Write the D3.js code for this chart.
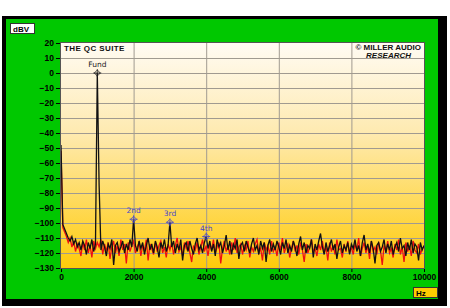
<!DOCTYPE html>
<html>
<head>
<meta charset="utf-8">
<script src="https://cdn.jsdelivr.net/npm/d3@7"></script>
<style>
  body { margin: 0; background: #fff; }
  svg { display: block; font-family: "Liberation Sans", Arial, sans-serif; }
</style>
</head>
<body>
<svg id="chart"></svg>
<script>
const width = 450;
const height = 308;

// spectrum bins, 50 Hz apart
const binHz = 50;

const blackLevels = [
  -48,-101,-104,-107,-110,-112,-109,-114,-111,-116,-113,-118,-112,-115,-121,-113,-117,-111,-119,-114,
  0,-75,-118,-112,-116,-122,-114,-117,-111,-128,-115,-113,-119,-116,-112,-120,-114,-118,-111,-116,
  -97.5,-115,-119,-112,-117,-113,-121,-115,-110,-118,-114,-120,-112,-116,-123,-113,-117,-111,-119,-115,
  -99.5,-116,-112,-120,-114,-118,-111,-125,-115,-113,-119,-112,-117,-121,-114,-110,-118,-115,-120,-113,
  -109,-117,-112,-119,-114,-122,-111,-116,-113,-120,-115,-108,-118,-112,-121,-114,-117,-111,-124,-115,
  -113,-119,-112,-116,-120,-114,-110,-118,-115,-121,-112,-117,-113,-126,-115,-111,-119,-114,-118,-112,
  -116,-121,-113,-117,-111,-120,-115,-119,-112,-116,-122,-114,-109,-118,-113,-120,-115,-117,-111,-123,
  -114,-118,-112,-107,-116,-121,-113,-119,-115,-111,-118,-114,-124,-116,-112,-120,-115,-118,-113,-121,
  -114,-117,-111,-119,-115,-122,-113,-108,-118,-114,-120,-112,-117,-127,-115,-113,-119,-116,-111,-120,
  -114,-118,-112,-121,-116,-113,-119,-110,-117,-115,-122,-113,-118,-111,-120,-114,-116,-125,-113,-118,
  -115
];

const redLevels = [
  -52,-103,-106,-109,-113,-110,-116,-112,-119,-114,-117,-122,-113,-118,-111,-120,-115,-123,-112,-117,
  -113,-116,-111,-121,-114,-119,-113,-124,-116,-112,-120,-115,-122,-111,-118,-114,-127,-113,-119,-115,
  -112,-120,-116,-113,-122,-115,-118,-111,-125,-114,-117,-121,-113,-119,-115,-112,-120,-116,-123,-114,
  -118,-113,-121,-115,-110,-119,-116,-122,-113,-117,-112,-120,-126,-115,-118,-113,-121,-116,-111,-119,
  -115,-122,-114,-118,-111,-120,-116,-113,-127,-117,-112,-119,-115,-121,-113,-118,-110,-120,-116,-114,
  -121,-115,-118,-112,-123,-116,-119,-114,-111,-120,-117,-125,-113,-118,-115,-121,-112,-119,-116,-122,
  -113,-118,-110,-120,-116,-114,-123,-117,-112,-119,-115,-121,-113,-118,-126,-114,-120,-116,-111,-119,
  -117,-122,-114,-118,-112,-120,-116,-125,-113,-119,-115,-121,-111,-118,-117,-123,-114,-119,-112,-120,
  -116,-121,-114,-118,-110,-122,-117,-113,-120,-115,-124,-112,-119,-116,-121,-113,-118,-128,-115,-119,
  -112,-120,-117,-123,-114,-118,-111,-121,-116,-126,-113,-119,-115,-122,-112,-118,-120,-114,-121,-117,
  -116
];

const markerNames = ["Fund", "2nd", "3rd", "4th"];
const markerHz = [1000, 2000, 3000, 4000];
const markerDb = [0, -97.5, -99.5, -109];

const yTicks = [20, 10, 0, -10, -20, -30, -40, -50, -60, -70, -80, -90, -100, -110, -120, -130];
const xTicks = [0, 2000, 4000, 6000, 8000, 10000];

const plot = { left: 61, right: 424, top: 43, bottom: 268 };

const svg = d3.select("#chart")
  .attr("width", width)
  .attr("height", height);

const x = d3.scaleLinear().domain([0, 10000]).range([plot.left, plot.right]);
const y = d3.scaleLinear().domain([-130, 20]).range([plot.bottom, plot.top]);

// frame
svg.append("rect").attr("x", 2).attr("y", 16).attr("width", 445).attr("height", 290).attr("fill", "#000");
svg.append("rect").attr("x", 6).attr("y", 19).attr("width", 432).attr("height", 280).attr("fill", "#00c800");

// plot background
const grad = svg.append("defs").append("linearGradient")
  .attr("id", "bg").attr("x1", 0).attr("y1", 0).attr("x2", 0).attr("y2", 1);
grad.append("stop").attr("offset", "0%").attr("stop-color", "#fffbf3");
grad.append("stop").attr("offset", "40%").attr("stop-color", "#feeab0");
grad.append("stop").attr("offset", "100%").attr("stop-color", "#ffcb0a");

svg.append("rect")
  .attr("x", plot.left).attr("y", plot.top)
  .attr("width", plot.right - plot.left).attr("height", plot.bottom - plot.top)
  .attr("fill", "url(#bg)");

// grid
svg.append("g")
  .selectAll("line")
  .data(yTicks.slice(1, -1))
  .join("line")
  .attr("x1", plot.left).attr("x2", plot.right)
  .attr("y1", d => y(d) + 0.5).attr("y2", d => y(d) + 0.5)
  .attr("stroke", "#a09a90").attr("stroke-width", 1);

svg.append("g")
  .selectAll("line")
  .data(xTicks.slice(1, -1))
  .join("line")
  .attr("x1", d => x(d) + 0.5).attr("x2", d => x(d) + 0.5)
  .attr("y1", plot.top).attr("y2", plot.bottom)
  .attr("stroke", "#a09a90").attr("stroke-width", 1);

// axes
const yAxis = svg.append("g")
  .attr("transform", `translate(${plot.left},0)`)
  .call(d3.axisLeft(y).tickValues(yTicks).tickSize(5).tickPadding(2));
const xAxis = svg.append("g")
  .attr("transform", `translate(0,${plot.bottom})`)
  .call(d3.axisBottom(x).tickValues(xTicks).tickSize(4).tickPadding(2).tickFormat(d3.format("d")));

[yAxis, xAxis].forEach(g => {
  g.select(".domain").remove();
  g.selectAll("line").attr("stroke", "#000");
  g.selectAll("text")
    .attr("fill", "#000")
    .style("font-family", "'Liberation Sans', Arial, sans-serif")
    .style("font-size", "8.5px")
    .style("font-weight", "bold");
});

// traces
const line = d3.line()
  .x((d, i) => x(i * binHz))
  .y(d => y(d));

svg.append("path")
  .datum(redLevels)
  .attr("d", line)
  .attr("fill", "none")
  .attr("stroke", "#ee1010")
  .attr("stroke-width", 1.3);

svg.append("path")
  .datum(blackLevels)
  .attr("d", line)
  .attr("fill", "none")
  .attr("stroke", "#111")
  .attr("stroke-width", 1.3);

// plot border
svg.append("rect")
  .attr("x", plot.left - 0.5).attr("y", plot.top - 0.5)
  .attr("width", plot.right - plot.left + 1).attr("height", plot.bottom - plot.top + 1)
  .attr("fill", "none").attr("stroke", "#555").attr("stroke-width", 1);

// harmonic markers
const marks = svg.append("g")
  .selectAll("g")
  .data(markerNames)
  .join("g")
  .attr("transform", (d, i) => `translate(${x(markerHz[i])},${y(markerDb[i])})`);

const markColor = (d, i) => i === 0 ? "#222" : "#4848c8";

marks.append("path")
  .attr("d", "M0,-3L3,0L0,3L-3,0Z M-4,0H4 M0,-4V4")
  .attr("fill", "none")
  .attr("stroke", markColor)
  .attr("stroke-width", 0.8);

marks.append("text")
  .attr("y", -6)
  .attr("text-anchor", "middle")
  .attr("fill", markColor)
  .style("font-family", "'DejaVu Sans', sans-serif")
  .style("font-size", "7.5px")
  .text(d => d);

// titles
svg.append("text")
  .attr("x", 64).attr("y", 51)
  .style("font-size", "8px").style("font-weight", "bold").style("letter-spacing", "0.4px")
  .attr("fill", "#111")
  .text("THE QC SUITE");

svg.append("text")
  .attr("x", 421).attr("y", 50)
  .attr("text-anchor", "end")
  .style("font-size", "8px").style("font-weight", "bold")
  .attr("fill", "#111")
  .text("© MILLER AUDIO");

svg.append("text")
  .attr("x", 411).attr("y", 58)
  .attr("text-anchor", "end")
  .style("font-size", "8px").style("font-weight", "bold").style("font-style", "italic")
  .attr("fill", "#111")
  .text("RESEARCH");

// unit boxes
svg.append("rect")
  .attr("x", 10.5).attr("y", 23.5).attr("width", 24).attr("height", 10)
  .attr("fill", "#fff").attr("stroke", "#333");
svg.append("text")
  .attr("x", 13).attr("y", 31.5)
  .style("font-size", "8px").style("font-weight", "bold")
  .text("dBV");

svg.append("rect")
  .attr("x", 413.5).attr("y", 287.5).attr("width", 24).attr("height", 10)
  .attr("fill", "#ffcc00").attr("stroke", "#333");
svg.append("text")
  .attr("x", 416).attr("y", 295.5)
  .style("font-size", "8px").style("font-weight", "bold")
  .text("Hz");
</script>
</body>
</html>
